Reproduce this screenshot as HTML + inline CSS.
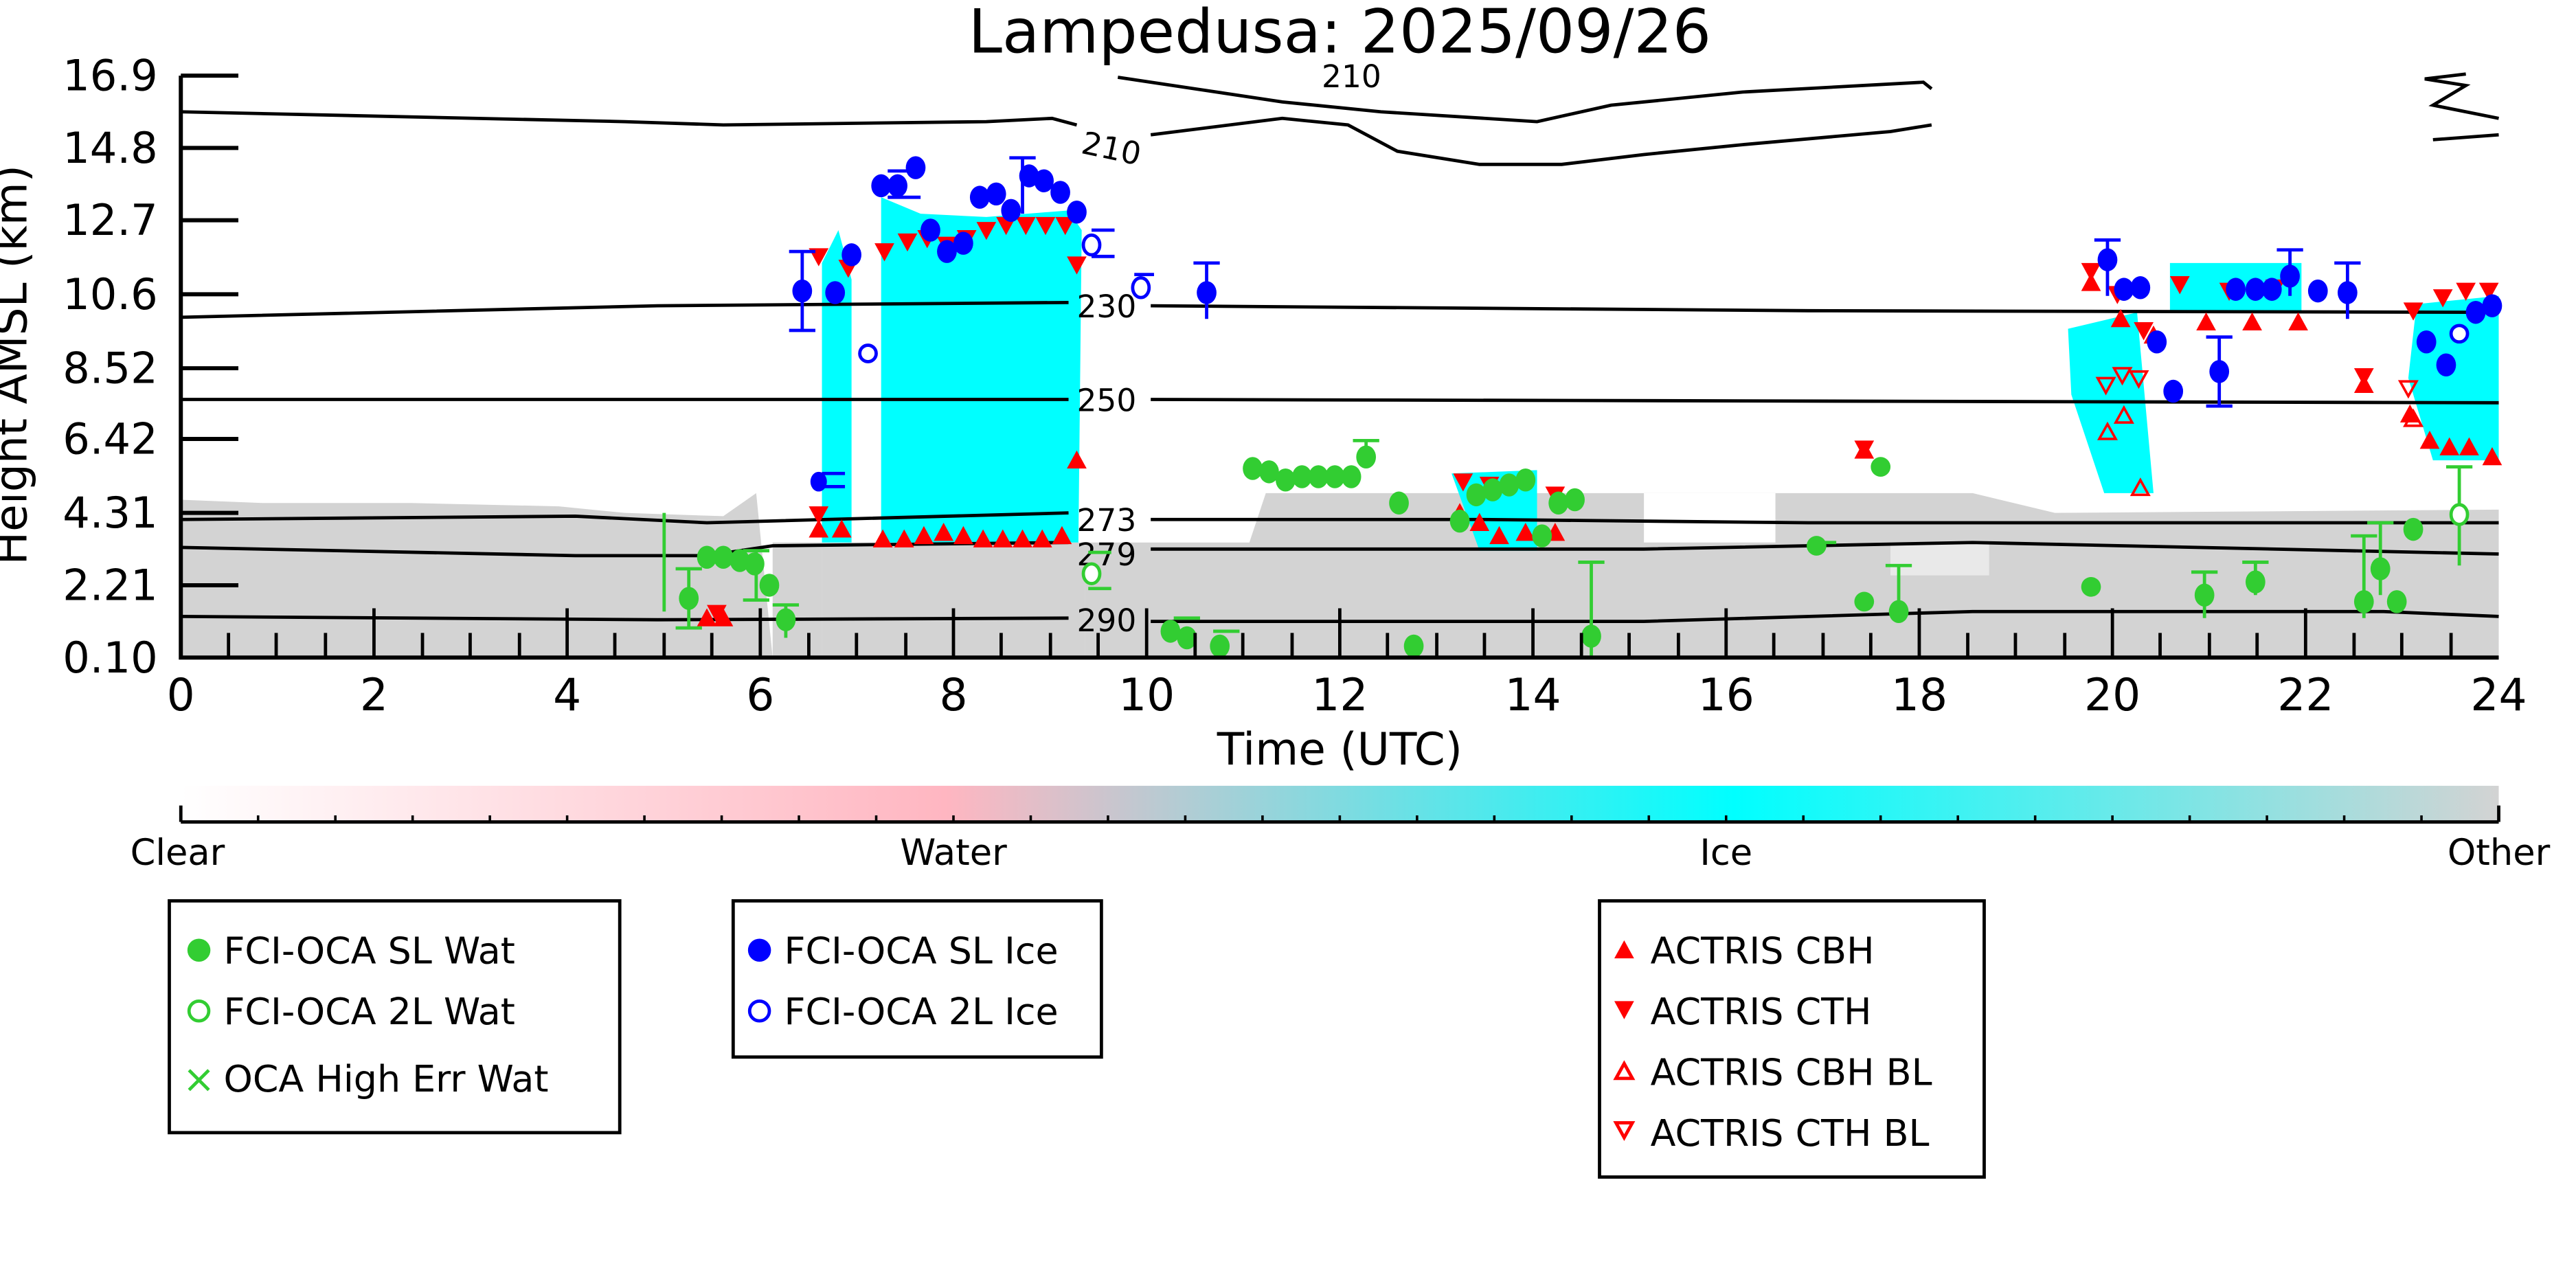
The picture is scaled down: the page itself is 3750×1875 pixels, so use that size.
<!DOCTYPE html>
<html><head><meta charset="utf-8"><style>html,body{margin:0;padding:0;background:#fff}svg{display:block}</style></head><body>
<svg width="3750" height="1875" viewBox="0 0 1567 783.5" xmlns="http://www.w3.org/2000/svg" font-family="DejaVu Sans, Liberation Sans, sans-serif">
<defs>
<linearGradient id="cb" x1="0" x2="1" y1="0" y2="0">
<stop offset="0" stop-color="#fff"/><stop offset="0.33" stop-color="#ffb6c1"/><stop offset="0.67" stop-color="#00ffff"/><stop offset="1" stop-color="#d3d3d3"/>
</linearGradient>
</defs>
<text x="815" y="32" font-size="37" text-anchor="middle">Lampedusa: 2025/09/26</text>
<g fill="#d3d3d3">
<polygon points="110,304 160,306 250,306 340,308 380,312 440,314 460,300 470,400 110,400"/>
<rect x="470" y="330" width="30" height="70"/>
<rect x="500" y="330" width="160" height="70"/>
<polygon points="660,330 760,330 770,300 1200,300 1250,312 1520,310 1520,400 660,400"/>
</g>
<g fill="#fff"><rect x="1000" y="300" width="80" height="30"/><rect x="1150" y="330" width="60" height="20" opacity="0.5"/></g>
<g fill="#00ffff">
<polygon points="500,160 510,140 518,170 518,330 500,330"/>
<polygon points="536,120 560,130 600,132 650,128 658,140 656,330 536,330"/>
<polygon points="883,288 935,286 935,335 900,335"/>
<polygon points="1258,200 1300,190 1310,300 1280,300 1260,240"/>
<polygon points="1320,160 1400,160 1400,190 1320,190"/>
<polygon points="1470,185 1520,180 1520,280 1480,280 1465,230"/>
</g>
<g fill="none" stroke="#000" stroke-width="2">
<polyline points="110,68 380,74 440,76 600,74 640,72 655,76"/>
<polyline points="700,82 780,72 820,76 850,92 900,100 950,100 1000,94 1060,88 1150,80 1175,76"/>
<polyline points="680,47 780,62 840,68 935,74 980,64 1060,56 1170,50 1175,54"/>
<polyline points="1480,85 1520,82"/><polyline points="1520,72 1480,64 1500,52 1475,48 1500,45"/>
<polyline points="110,193 400,186 650,184"/><polyline points="700,186 1100,189 1520,190"/>
<polyline points="110,243 400,243 650,243"/><polyline points="700,243 1520,245"/>
<polyline points="110,316 350,314 430,318 650,312"/><polyline points="700,316 900,316 1100,318 1520,318"/>
<polyline points="110,333 350,338 430,338 470,332 650,330"/><polyline points="700,334 1000,334 1200,330 1520,337"/>
<polyline points="110,375 400,377 650,376"/><polyline points="700,378 1000,378 1200,372 1450,372 1520,375"/>
</g>
<g font-size="19" fill="#000">
<text x="657" y="93" transform="rotate(12 657 93)">210</text>
<text x="804" y="53">210</text>
<text x="655" y="193">230</text><text x="655" y="250">250</text><text x="655" y="323">273</text>
<text x="655" y="344">279</text><text x="655" y="384">290</text>
</g>
<g fill="#ff0000">
<path d="M498,316l6,11h-12z M512,316l6,11h-12z M537,322l6,11h-12z M550,322l6,11h-12z M562,320l6,11h-12z M574,318l6,11h-12z M586,320l6,11h-12z M598,322l6,11h-12z M610,322l6,11h-12z M622,322l6,11h-12z M634,322l6,11h-12z M646,320l6,11h-12z M655,274l6,11h-12z M430,370l6,11h-12z M440,370l6,11h-12z M888,306l6,11h-12z M900,312l6,11h-12z M912,320l6,11h-12z M928,318l6,11h-12z M946,318l6,11h-12z M1134,268l6,11h-12z M1272,166l6,11h-12z M1290,188l6,11h-12z M1310,198l6,11h-12z M1342,190l6,11h-12z M1370,190l6,11h-12z M1398,190l6,11h-12z M1438,228l6,11h-12z M1466,246l6,11h-12z M1478,262l6,11h-12z M1490,266l6,11h-12z M1502,266l6,11h-12z M1516,272l6,11h-12z"/>
<path d="M492,151l12,0l-6,11z M510,158l12,0l-6,11z M532,148l12,0l-6,11z M546,142l12,0l-6,11z M558,140l12,0l-6,11z M570,144l12,0l-6,11z M582,140l12,0l-6,11z M594,135l12,0l-6,11z M606,132l12,0l-6,11z M618,132l12,0l-6,11z M630,132l12,0l-6,11z M642,132l12,0l-6,11z M649,156l12,0l-6,11z M492,308l12,0l-6,11z M430,368l12,0l-6,11z M884,288l12,0l-6,11z M900,290l12,0l-6,11z M940,296l12,0l-6,11z M1128,268l12,0l-6,11z M1266,160l12,0l-6,11z M1282,174l12,0l-6,11z M1298,196l12,0l-6,11z M1320,168l12,0l-6,11z M1350,172l12,0l-6,11z M1378,170l12,0l-6,11z M1432,224l12,0l-6,11z M1462,184l12,0l-6,11z M1480,176l12,0l-6,11z M1494,172l12,0l-6,11z M1508,172l12,0l-6,11z"/>
</g>
<g fill="none" stroke="#ff0000" stroke-width="1.5">
<path d="M1282,258l5,9h-10z M1292,248l5,9h-10z M1302,292l5,9h-10z M1468,250l5,9h-10z"/>
<path d="M1276,230l10,0l-5,9z M1286,224l10,0l-5,9z M1296,226l10,0l-5,9z M1460,232l10,0l-5,9z"/>
</g>
<g stroke="#0000ff" stroke-width="2" fill="none">
<path d="M488,153v48M480,153h16M480,201h16 M622,96v34M614,96h16 M734,160v34M726,160h16 M1282,146v34M1274,146h16 M1350,205v42M1342,205h16M1342,247h16 M1428,160v34M1420,160h16 M1393,152v28M1385,152h16 M500,288h14M500,296h14 M540,104h20M540,120h20 M690,167h12 M664,140h14M664,156h14"/>
</g>
<g fill="#0000ff">
<ellipse cx="488" cy="177" rx="6" ry="7"/><ellipse cx="508" cy="178" rx="6" ry="7"/><ellipse cx="518" cy="155" rx="6" ry="7"/>
<ellipse cx="498" cy="293" rx="5" ry="6"/><ellipse cx="536" cy="113" rx="6" ry="7"/><ellipse cx="546" cy="113" rx="6" ry="7"/>
<ellipse cx="557" cy="102" rx="6" ry="7"/><ellipse cx="566" cy="140" rx="6" ry="7"/><ellipse cx="576" cy="153" rx="6" ry="7"/>
<ellipse cx="586" cy="148" rx="6" ry="7"/><ellipse cx="596" cy="120" rx="6" ry="7"/><ellipse cx="606" cy="118" rx="6" ry="7"/>
<ellipse cx="615" cy="128" rx="6" ry="7"/><ellipse cx="626" cy="107" rx="6" ry="7"/><ellipse cx="635" cy="110" rx="6" ry="7"/>
<ellipse cx="645" cy="117" rx="6" ry="7"/><ellipse cx="655" cy="129" rx="6" ry="7"/><ellipse cx="734" cy="178" rx="6" ry="7"/>
<ellipse cx="1282" cy="158" rx="6" ry="7"/><ellipse cx="1292" cy="176" rx="6" ry="7"/><ellipse cx="1302" cy="175" rx="6" ry="7"/>
<ellipse cx="1312" cy="208" rx="6" ry="7"/><ellipse cx="1322" cy="238" rx="6" ry="7"/><ellipse cx="1350" cy="226" rx="6" ry="7"/>
<ellipse cx="1360" cy="176" rx="6" ry="7"/><ellipse cx="1372" cy="176" rx="6" ry="7"/><ellipse cx="1382" cy="176" rx="6" ry="7"/>
<ellipse cx="1393" cy="168" rx="6" ry="7"/><ellipse cx="1410" cy="177" rx="6" ry="7"/><ellipse cx="1428" cy="178" rx="6" ry="7"/>
<ellipse cx="1476" cy="208" rx="6" ry="7"/><ellipse cx="1488" cy="222" rx="6" ry="7"/><ellipse cx="1506" cy="190" rx="6" ry="7"/><ellipse cx="1516" cy="186" rx="6" ry="7"/>
</g>
<g fill="#fff" stroke="#0000ff" stroke-width="2">
<ellipse cx="528" cy="215" rx="5" ry="5"/><ellipse cx="664" cy="149" rx="5" ry="6"/><ellipse cx="694" cy="175" rx="5" ry="6"/><ellipse cx="1496" cy="203" rx="5" ry="5"/>
</g>
<g stroke="#32cd32" stroke-width="2" fill="none">
<path d="M419,346v36M411,346h16M411,382h16 M404,312v60 M460,335v30M452,335h16M452,365h16 M478,368v20M470,368h16 M831,268v16M823,268h16 M968,342v58M960,342h16 M1155,344v30M1147,344h16 M1341,348v28M1333,348h16 M1372,342v20M1364,342h16 M1438,326v50M1430,326h16 M1448,318v44M1440,318h16 M1496,284v60M1488,284h16 M1105,330h12 M714,376h16M738,384h16 M662,336h14M662,358h14"/>
</g>
<g fill="#32cd32">
<ellipse cx="419" cy="364" rx="6" ry="7"/><ellipse cx="430" cy="339" rx="6" ry="7"/><ellipse cx="440" cy="339" rx="6" ry="7"/>
<ellipse cx="450" cy="341" rx="6" ry="7"/><ellipse cx="459" cy="343" rx="6" ry="7"/><ellipse cx="468" cy="356" rx="6" ry="7"/>
<ellipse cx="478" cy="377" rx="6" ry="7"/><ellipse cx="712" cy="384" rx="6" ry="7"/><ellipse cx="722" cy="388" rx="6" ry="7"/><ellipse cx="742" cy="393" rx="6" ry="7"/>
<ellipse cx="762" cy="285" rx="6" ry="7"/><ellipse cx="772" cy="287" rx="6" ry="7"/><ellipse cx="782" cy="292" rx="6" ry="7"/><ellipse cx="792" cy="290" rx="6" ry="7"/>
<ellipse cx="802" cy="290" rx="6" ry="7"/><ellipse cx="812" cy="290" rx="6" ry="7"/><ellipse cx="822" cy="290" rx="6" ry="7"/><ellipse cx="831" cy="278" rx="6" ry="7"/>
<ellipse cx="851" cy="306" rx="6" ry="7"/><ellipse cx="888" cy="317" rx="6" ry="7"/><ellipse cx="898" cy="301" rx="6" ry="7"/><ellipse cx="908" cy="298" rx="6" ry="7"/>
<ellipse cx="918" cy="295" rx="6" ry="7"/><ellipse cx="928" cy="292" rx="6" ry="7"/><ellipse cx="938" cy="326" rx="6" ry="7"/><ellipse cx="948" cy="306" rx="6" ry="7"/>
<ellipse cx="958" cy="304" rx="6" ry="7"/><ellipse cx="968" cy="387" rx="6" ry="7"/><ellipse cx="860" cy="393" rx="6" ry="7"/>
<ellipse cx="1105" cy="332" rx="6" ry="6"/><ellipse cx="1134" cy="366" rx="6" ry="6"/><ellipse cx="1144" cy="284" rx="6" ry="6"/><ellipse cx="1155" cy="372" rx="6" ry="7"/>
<ellipse cx="1272" cy="357" rx="6" ry="6"/><ellipse cx="1341" cy="362" rx="6" ry="7"/><ellipse cx="1372" cy="354" rx="6" ry="7"/><ellipse cx="1438" cy="366" rx="6" ry="7"/>
<ellipse cx="1448" cy="346" rx="6" ry="7"/><ellipse cx="1458" cy="366" rx="6" ry="7"/><ellipse cx="1468" cy="322" rx="6" ry="7"/>
</g>
<g fill="#fff" stroke="#32cd32" stroke-width="2"><ellipse cx="664" cy="349" rx="5" ry="6"/><ellipse cx="1496" cy="313" rx="5" ry="6"/></g>
<g stroke="#000" stroke-width="2.5" fill="none">
<path d="M110,46V400H1520"/>
<path d="M110,46h35M110,90h35M110,134h35M110,179h35M110,224h35M110,267h35M110,312h35M110,356h35"/>
</g>
<g stroke="#000" stroke-width="2">
<path d="M110,400v-30M227.5,400v-30M345,400v-30M462.5,400v-30M580,400v-30M697.5,400v-30M815,400v-30M932.5,400v-30M1050,400v-30M1167.5,400v-30M1285,400v-30M1402.5,400v-30"/>
<path d="M139,400v-15M168,400v-15M198,400v-15M257,400v-15M286,400v-15M316,400v-15M374,400v-15M404,400v-15M433,400v-15M492,400v-15M521,400v-15M551,400v-15M609,400v-15M639,400v-15M668,400v-15M727,400v-15M756,400v-15M786,400v-15M844,400v-15M874,400v-15M903,400v-15M962,400v-15M991,400v-15M1021,400v-15M1079,400v-15M1109,400v-15M1138,400v-15M1197,400v-15M1226,400v-15M1256,400v-15M1314,400v-15M1344,400v-15M1373,400v-15M1432,400v-15M1461,400v-15M1491,400v-15"/>
</g>
<g font-size="26" fill="#000" text-anchor="end">
<text x="96" y="55">16.9</text><text x="96" y="99">14.8</text><text x="96" y="143">12.7</text><text x="96" y="188">10.6</text>
<text x="96" y="233">8.52</text><text x="96" y="276">6.42</text><text x="96" y="321">4.31</text><text x="96" y="365">2.21</text><text x="96" y="409">0.10</text>
</g>
<g font-size="27" fill="#000" text-anchor="middle">
<text x="110" y="432">0</text><text x="227.5" y="432">2</text><text x="345" y="432">4</text><text x="462.5" y="432">6</text><text x="580" y="432">8</text>
<text x="697.5" y="432">10</text><text x="815" y="432">12</text><text x="932.5" y="432">14</text><text x="1050" y="432">16</text><text x="1167.5" y="432">18</text>
<text x="1285" y="432">20</text><text x="1402.5" y="432">22</text><text x="1520" y="432">24</text>
<text x="815" y="465">Time (UTC)</text>
<text x="16" y="222" transform="rotate(-90 16 222)">Height AMSL (km)</text>
</g>
<rect x="110" y="478" width="1410" height="22" fill="url(#cb)"/>
<path d="M110,500H1520M110,490v10M1520,490v10" stroke="#000" stroke-width="2"/>
<g stroke="#000" stroke-width="1.5"><path d="M157,496v4M204,496v4M251,496v4M298,496v4M345,496v4M392,496v4M439,496v4M486,496v4M533,496v4M580,496v4M627,496v4M674,496v4M721,496v4M768,496v4M815,496v4M862,496v4M909,496v4M956,496v4M1003,496v4M1050,496v4M1097,496v4M1144,496v4M1191,496v4M1238,496v4M1285,496v4M1332,496v4M1379,496v4M1426,496v4M1473,496v4"/></g>
<g font-size="22" text-anchor="middle"><text x="108" y="526">Clear</text><text x="580" y="526">Water</text><text x="1050" y="526">Ice</text><text x="1520" y="526">Other</text></g>
<g fill="none" stroke="#000" stroke-width="2"><rect x="103" y="548" width="274" height="141"/><rect x="446" y="548" width="224" height="95"/><rect x="973" y="548" width="234" height="168"/></g>
<g font-size="22.5">
<circle cx="121" cy="578" r="7" fill="#32cd32"/><text x="136" y="586">FCI-OCA SL Wat</text>
<circle cx="121" cy="615" r="6" fill="none" stroke="#32cd32" stroke-width="2"/><text x="136" y="623">FCI-OCA 2L Wat</text>
<path d="M115,651l12,12M127,651l-12,12" stroke="#32cd32" stroke-width="2"/><text x="136" y="664">OCA High Err Wat</text>
<circle cx="462" cy="578" r="7" fill="#0000ff"/><text x="477" y="586">FCI-OCA SL Ice</text>
<circle cx="462" cy="615" r="6" fill="none" stroke="#0000ff" stroke-width="2"/><text x="477" y="623">FCI-OCA 2L Ice</text>
<path d="M988,572l6,11h-12z" fill="#ff0000"/><text x="1004" y="586">ACTRIS CBH</text>
<path d="M982,609h12l-6,11z" fill="#ff0000"/><text x="1004" y="623">ACTRIS CTH</text>
<path d="M988,647l5,9h-10z" fill="none" stroke="#ff0000" stroke-width="2"/><text x="1004" y="660">ACTRIS CBH BL</text>
<path d="M983,683h10l-5,9z" fill="none" stroke="#ff0000" stroke-width="2"/><text x="1004" y="697">ACTRIS CTH BL</text>
</g>
</svg>
</body></html>
